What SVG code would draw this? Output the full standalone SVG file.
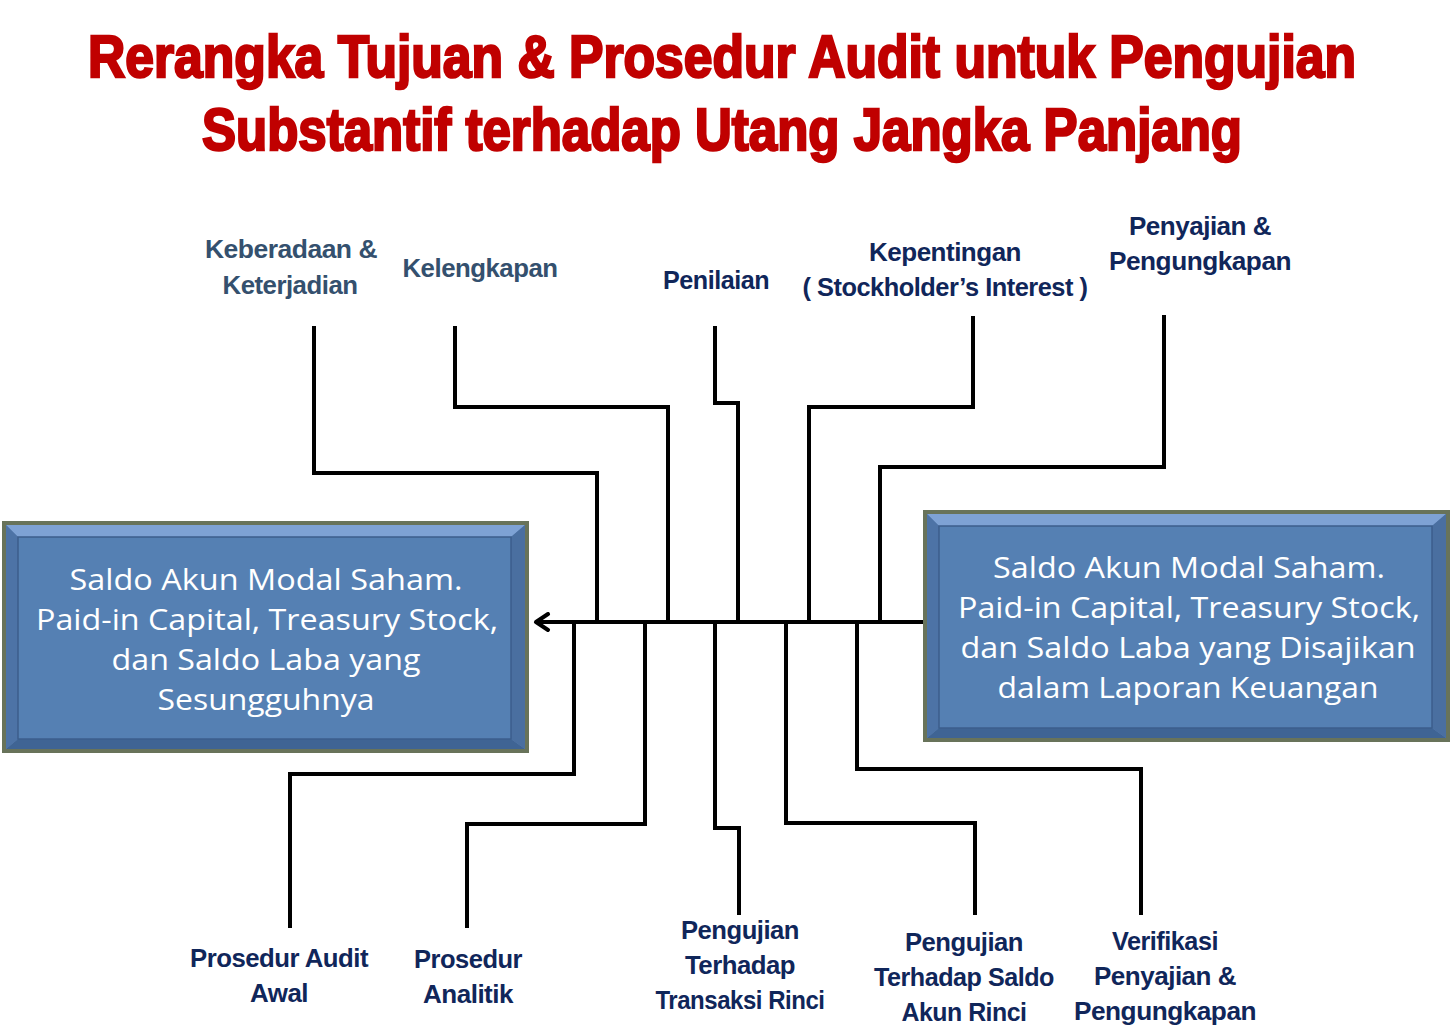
<svg xmlns="http://www.w3.org/2000/svg" width="1452" height="1029" viewBox="0 0 1452 1029">
<defs>
<style>
.title{font-family:"Liberation Sans",Arial,sans-serif;font-weight:900;font-size:60px;fill:#c00000;stroke:#c00000;stroke-width:2.5;text-anchor:middle}
.lbl{font-family:"Liberation Sans",Arial,sans-serif;font-weight:bold;font-size:26px;fill:#10265a;text-anchor:middle;letter-spacing:-0.5px}
.lbl2{fill:#34506e}
.box{font-family:"Open Sans","Liberation Sans",sans-serif;font-size:30px;fill:#ffffff;text-anchor:middle}
.ln{fill:none;stroke:#000;stroke-width:4;stroke-linejoin:miter}
.outer{fill:#5a7fb0;stroke:#68735a;stroke-width:4}
.inner{fill:#5580b3;stroke:#3c5e8c;stroke-width:1.5}
</style>
<marker id="arr" viewBox="0 0 20 20" refX="17" refY="10" markerWidth="20" markerHeight="20" markerUnits="userSpaceOnUse" orient="auto">
<path d="M5 2 L17 10 L5 18" fill="none" stroke="#000" stroke-width="4" stroke-linecap="round" stroke-linejoin="round"/>
</marker>
</defs>
<rect width="1452" height="1029" fill="#ffffff"/>
<g id="title">
<text class="title" x="722" y="77" textLength="1268" lengthAdjust="spacingAndGlyphs">Rerangka Tujuan &amp; Prosedur Audit untuk Pengujian</text>
<text class="title" x="722" y="150" textLength="1040" lengthAdjust="spacingAndGlyphs">Substantif terhadap Utang Jangka Panjang</text>
</g>
<g id="connectors">
<path class="ln" d="M926 622 H536" marker-end="url(#arr)"/>
<path class="ln" d="M314 326 V473 H597 V622"/>
<path class="ln" d="M455 326 V407 H668 V622"/>
<path class="ln" d="M715 326 V403 H738 V622"/>
<path class="ln" d="M973 316 V407 H809 V622"/>
<path class="ln" d="M1164 315 V467 H880 V622"/>
<path class="ln" d="M574 622 V774 H290 V928"/>
<path class="ln" d="M645 622 V824 H467 V928"/>
<path class="ln" d="M715 622 V828 H739 V915"/>
<path class="ln" d="M786 622 V823 H975 V915"/>
<path class="ln" d="M857 622 V769 H1141 V915"/>
</g>
<g id="box-left">
<rect class="outer" x="4" y="523" width="523" height="228"/>
<polygon points="6,525 525,525 511,537 18,537" fill="#7ea2d4"/>
<polygon points="6,749 525,749 511,739 18,739" fill="#3f6494"/>
<polygon points="6,525 18,537 18,739 6,749" fill="#4d73a6"/>
<polygon points="525,525 511,537 511,739 525,749" fill="#4a6fa0"/>
<rect class="inner" x="18" y="537" width="493" height="202"/>
<text class="box" x="266" y="590" textLength="393" lengthAdjust="spacingAndGlyphs">Saldo Akun Modal Saham.</text>
<text class="box" x="267" y="630" textLength="462" lengthAdjust="spacingAndGlyphs">Paid-in Capital, Treasury Stock,</text>
<text class="box" x="266" y="670" textLength="309" lengthAdjust="spacingAndGlyphs">dan Saldo Laba yang</text>
<text class="box" x="266" y="710" textLength="217" lengthAdjust="spacingAndGlyphs">Sesungguhnya</text>
</g>
<g id="box-right">
<rect class="outer" x="925" y="512" width="523" height="228"/>
<polygon points="927,514 1446,514 1432,526 939,526" fill="#7ea2d4"/>
<polygon points="927,738 1446,738 1432,728 939,728" fill="#3f6494"/>
<polygon points="927,514 939,526 939,728 927,738" fill="#4d73a6"/>
<polygon points="1446,514 1432,526 1432,728 1446,738" fill="#4a6fa0"/>
<rect class="inner" x="939" y="526" width="493" height="202"/>
<text class="box" x="1189" y="578" textLength="392" lengthAdjust="spacingAndGlyphs">Saldo Akun Modal Saham.</text>
<text class="box" x="1189" y="618" textLength="462" lengthAdjust="spacingAndGlyphs">Paid-in Capital, Treasury Stock,</text>
<text class="box" x="1188" y="658" textLength="455" lengthAdjust="spacingAndGlyphs">dan Saldo Laba yang Disajikan</text>
<text class="box" x="1188" y="698" textLength="381" lengthAdjust="spacingAndGlyphs">dalam Laporan Keuangan</text>
</g>
<g id="lbl-keberadaan">
<text class="lbl lbl2" x="291" y="258" textLength="172" lengthAdjust="spacingAndGlyphs">Keberadaan &amp;</text>
<text class="lbl lbl2" x="290" y="294" textLength="135" lengthAdjust="spacingAndGlyphs">Keterjadian</text>
</g>
<g id="lbl-kelengkapan">
<text class="lbl lbl2" x="480" y="277" textLength="155" lengthAdjust="spacingAndGlyphs">Kelengkapan</text>
</g>
<g id="lbl-penilaian">
<text class="lbl" x="716" y="289" textLength="106" lengthAdjust="spacingAndGlyphs">Penilaian</text>
</g>
<g id="lbl-kepentingan">
<text class="lbl" x="945" y="261" textLength="152" lengthAdjust="spacingAndGlyphs">Kepentingan</text>
<text class="lbl" x="945" y="296" textLength="285" lengthAdjust="spacingAndGlyphs">( Stockholder’s Interest )</text>
</g>
<g id="lbl-penyajian">
<text class="lbl" x="1200" y="235" textLength="142" lengthAdjust="spacingAndGlyphs">Penyajian &amp;</text>
<text class="lbl" x="1200" y="270" textLength="182" lengthAdjust="spacingAndGlyphs">Pengungkapan</text>
</g>
<g id="lbl-prosedur-awal">
<text class="lbl" x="279" y="967" textLength="178" lengthAdjust="spacingAndGlyphs">Prosedur Audit</text>
<text class="lbl" x="279" y="1002" textLength="58" lengthAdjust="spacingAndGlyphs">Awal</text>
</g>
<g id="lbl-analitik">
<text class="lbl" x="468" y="968" textLength="108" lengthAdjust="spacingAndGlyphs">Prosedur</text>
<text class="lbl" x="468" y="1003" textLength="90" lengthAdjust="spacingAndGlyphs">Analitik</text>
</g>
<g id="lbl-transaksi">
<text class="lbl" x="740" y="939" textLength="118" lengthAdjust="spacingAndGlyphs">Pengujian</text>
<text class="lbl" x="740" y="974" textLength="110" lengthAdjust="spacingAndGlyphs">Terhadap</text>
<text class="lbl" x="740" y="1009" textLength="169" lengthAdjust="spacingAndGlyphs">Transaksi Rinci</text>
</g>
<g id="lbl-saldo">
<text class="lbl" x="964" y="951" textLength="118" lengthAdjust="spacingAndGlyphs">Pengujian</text>
<text class="lbl" x="964" y="986" textLength="180" lengthAdjust="spacingAndGlyphs">Terhadap Saldo</text>
<text class="lbl" x="964" y="1021" textLength="125" lengthAdjust="spacingAndGlyphs">Akun Rinci</text>
</g>
<g id="lbl-verifikasi">
<text class="lbl" x="1165" y="950" textLength="106" lengthAdjust="spacingAndGlyphs">Verifikasi</text>
<text class="lbl" x="1165" y="985" textLength="142" lengthAdjust="spacingAndGlyphs">Penyajian &amp;</text>
<text class="lbl" x="1165" y="1020" textLength="182" lengthAdjust="spacingAndGlyphs">Pengungkapan</text>
</g>
</svg>
